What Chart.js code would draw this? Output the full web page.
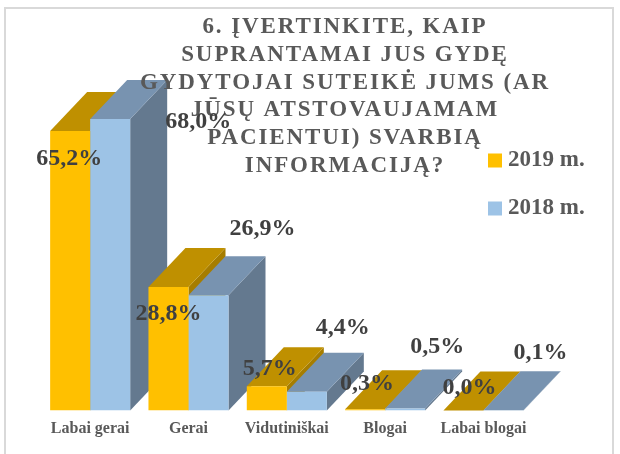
<!DOCTYPE html>
<html>
<head>
<meta charset="utf-8">
<script src="https://cdn.jsdelivr.net/npm/chart.js@4"></script>
<style>
html,body{margin:0;padding:0;background:#fff;}
#wrap{position:relative;width:620px;height:454px;overflow:hidden;}
canvas{display:block;}
#frame{position:absolute;left:4px;top:7px;width:606px;height:460px;border:2px solid #d9d9d9;pointer-events:none;}
</style>
</head>
<body>
<div id="wrap"><canvas id="c" width="620" height="454"></canvas><div id="frame"></div></div>
<script>
const categories = ["Labai gerai","Gerai","Vidutiniškai","Blogai","Labai blogai"];
const series2019 = [65.2,28.8,5.7,0.3,0.0];
const series2018 = [68.0,26.9,4.4,0.5,0.1];
const titleLines = ["6. ĮVERTINKITE, KAIP","SUPRANTAMAI JUS GYDĘ","GYDYTOJAI SUTEIKĖ JUMS (AR","JŪSŲ ATSTOVAUJAMAM","PACIENTUI) SVARBIĄ","INFORMACIJĄ?"];
const labelShift2019 = [[-1,27.5],[0,26.5],[3,-17],[2,-25.5],[6,-22.5]];
const labelShift2018 = [[88,2.5],[54,-66.5],[36,-63.5],[32,-61.5],[37,-57]];
const depthX = 37, depthY = 39;
const sideColors = [{top:"#BF9000",side:"#A67D00"},{top:"#7893B0",side:"#64798F"}];
const shifts = [labelShift2019,labelShift2018];

const bar3d = {
  id:"bar3d",
  beforeDatasetsDraw(chart){
    const ctx = chart.ctx;
    categories.forEach((c,j)=>{
      chart.data.datasets.forEach((ds,i)=>{
        const b = chart.getDatasetMeta(i).data[j];
        const l=b.x-b.width/2, r=b.x+b.width/2, t=b.y, bt=b.base;
        ctx.fillStyle=sideColors[i].side;
        ctx.beginPath();
        ctx.moveTo(r,t);ctx.lineTo(r+depthX,t-depthY);ctx.lineTo(r+depthX,bt-depthY);ctx.lineTo(r,bt);
        ctx.closePath();ctx.fill();
        ctx.fillStyle=sideColors[i].top;
        ctx.beginPath();
        ctx.moveTo(l,t);ctx.lineTo(l+depthX,t-depthY);ctx.lineTo(r+depthX,t-depthY);ctx.lineTo(r,t);
        ctx.closePath();ctx.fill();
      });
    });
  }
};
const overlay = {
  id:"overlay",
  afterLayout(chart){
    chart.legend.left=468.5; chart.legend.right=620;
    chart.legend.top=124; chart.legend.bottom=454;
  },
  afterDraw(chart){
    const ctx=chart.ctx;
    ctx.save();
    ctx.fillStyle="#595959";
    ctx.font='bold 23px "Liberation Serif"';
    ctx.textAlign="center";ctx.textBaseline="alphabetic";
    ctx.letterSpacing="1.9px";
    titleLines.forEach((s,i)=>ctx.fillText(s,345,33+i*27.8));
    ctx.letterSpacing="0px";
    ctx.fillStyle="#404040";
    ctx.font='bold 24px "Liberation Serif"';
    ctx.textBaseline="middle";
    chart.data.datasets.forEach((ds,i)=>{
      chart.getDatasetMeta(i).data.forEach((b,j)=>{
        const txt=ds.data[j].toFixed(1).replace(".",",")+"%";
        ctx.fillText(txt,b.x+shifts[i][j][0],b.y+shifts[i][j][1]);
      });
    });
    ctx.restore();
  }
};
new Chart(document.getElementById("c"),{
  type:"bar",
  data:{labels:categories,datasets:[
    {label:"2019 m.",data:series2019,backgroundColor:"#FFC000",borderWidth:0},
    {label:"2018 m.",data:series2018,backgroundColor:"#9DC3E6",borderWidth:0}
  ]},
  options:{
    responsive:false,animation:false,
    categoryPercentage:0.814,barPercentage:1,
    layout:{padding:{left:41,right:87.4,top:67.6,bottom:7.4}},
    plugins:{
      title:{display:false},
      tooltip:{enabled:false},
      legend:{display:true,position:"chartArea",align:"start",
        labels:{font:{family:"Liberation Serif",size:23,weight:"bold"},color:"#595959",
          usePointStyle:true,pointStyle:"rect",boxWidth:3,boxHeight:14,padding:25}}
    },
    scales:{
      x:{grid:{display:false,drawTicks:false},border:{display:false},
        ticks:{color:"#595959",padding:8.4,maxRotation:0,autoSkip:false,font:{family:"Liberation Serif",size:16,weight:"bold"}}},
      y:{display:false,min:0,max:80}
    }
  },
  plugins:[bar3d,overlay]
});
</script>
</body>
</html>
